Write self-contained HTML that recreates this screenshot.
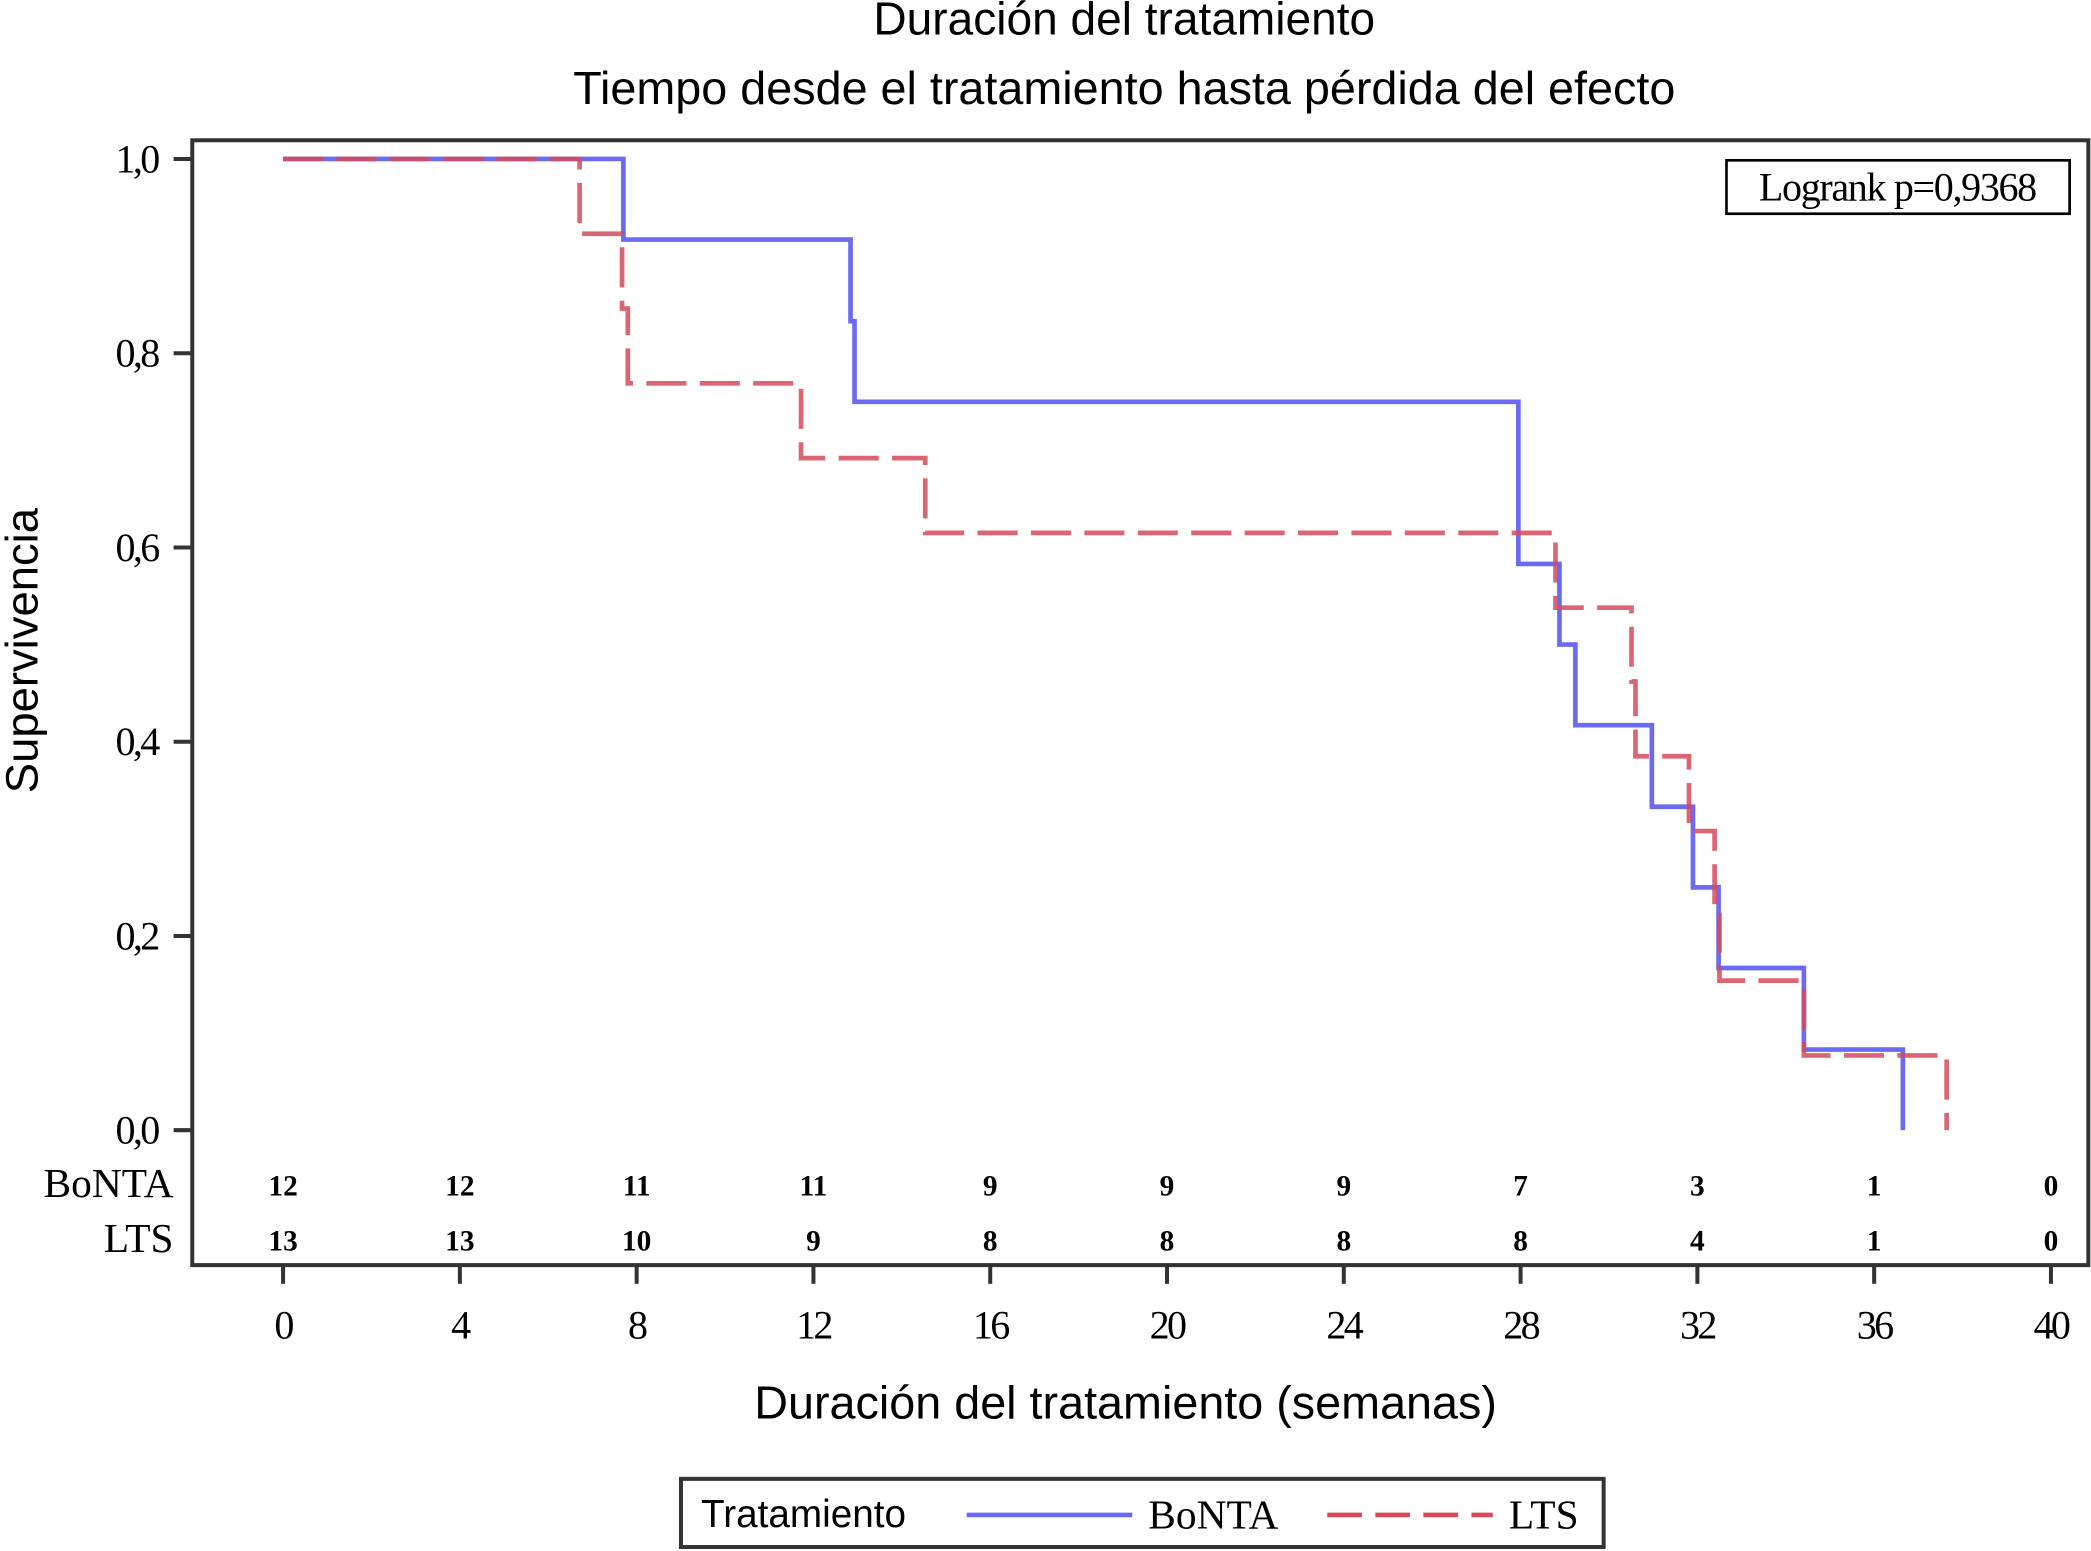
<!DOCTYPE html>
<html><head><meta charset="utf-8"><style>
html,body{margin:0;padding:0;background:#fff;}
svg{display:block;}
.t{font-family:"Liberation Sans",sans-serif;fill:#000;}
.s{font-family:"Liberation Serif",serif;fill:#000;}
</style></head><body>
<svg id="chart" width="2091" height="1551" viewBox="0 0 1566 1161" preserveAspectRatio="none" xmlns="http://www.w3.org/2000/svg">
<text class="t" x="842" y="26" font-size="34.5" text-anchor="middle">Duración del tratamiento</text>
<text class="t" x="842" y="78" font-size="35" text-anchor="middle">Tiempo desde el tratamiento hasta pérdida del efecto</text>
<rect x="144" y="105" width="1420" height="842" fill="none" stroke="#333" stroke-width="3"/>
<g id="yaxis"></g>
<g id="xaxis"></g>
<g id="series"></g>
<g id="risk"></g>
<text class="t" transform="translate(28,487) rotate(-90)" font-size="34" text-anchor="middle">Supervivencia</text>
<text class="t" x="843" y="1062" font-size="35" text-anchor="middle">Duración del tratamiento (semanas)</text>
<g>
<rect x="1293" y="120" width="257" height="40" fill="#fff" stroke="#000" stroke-width="2"/>
<text class="s" x="1421" y="150" font-size="30" text-anchor="middle" letter-spacing="-1">Logrank p=0,9368</text>
</g>
<g>
<rect x="510" y="1107" width="691" height="51" fill="#fff" stroke="#333" stroke-width="3"/>
<text class="t" x="525" y="1143" font-size="29">Tratamiento</text>
<line x1="724" y1="1134" x2="848" y2="1134" stroke="#6a6af2" stroke-width="3.5"/>
<text class="s" x="860" y="1144" font-size="31">BoNTA</text>
<line x1="994" y1="1134" x2="1118" y2="1134" stroke="#d64a5a" stroke-width="3.5" stroke-dasharray="26,10"/>
<text class="s" x="1130" y="1144" font-size="31">LTS</text>
</g>
</svg>
<script>
var yTicks=[0,0.2,0.4,0.6,0.8,1.0];
var yLabels=["0,0","0,2","0,4","0,6","0,8","1,0"];
var xTicks=[0,4,8,12,16,20,24,28,32,36,40];
var riskBonta=[12,12,11,11,9,9,9,7,3,1,0];
var riskLts=[13,13,10,9,8,8,8,8,4,1,0];
var bontaTimes=[7.70,12.84,12.93,27.95,28.88,29.24,30.97,31.90,32.48,34.41,36.65];
var bontaSurv=[0.917,0.833,0.75,0.583,0.5,0.417,0.333,0.25,0.167,0.083,0];
var ltsTimes=[6.71,7.67,7.80,11.72,14.53,28.79,30.51,30.60,31.81,32.39,32.50,34.41,37.64];
var ltsSurv=[0.923,0.846,0.769,0.692,0.615,0.538,0.462,0.385,0.308,0.231,0.154,0.077,0];
var NS="http://www.w3.org/2000/svg";
function X(t){return 212+t*(1536-212)/40;}
function Y(v){return 846-v*(846-119);}
function mk(tag,at,par){var e=document.createElementNS(NS,tag);for(var k in at)e.setAttribute(k,at[k]);par.appendChild(e);return e;}
var ya=document.getElementById('yaxis'),xa=document.getElementById('xaxis'),se=document.getElementById('series'),rk=document.getElementById('risk');
yTicks.forEach(function(v,i){
 var l=mk('line',{x1:130,x2:144,y1:Y(v),y2:Y(v),stroke:'#333','stroke-width':3},ya);
 
 
 var t=mk('text',{x:118,y:Y(v)+10,'font-size':30,'text-anchor':'end','class':'s','letter-spacing':'-2'},ya);
 t.textContent=yLabels[i];
 
 
});
xTicks.forEach(function(v,i){
 var l=mk('line',{x1:X(v),x2:X(v),y1:947,y2:961,stroke:'#333','stroke-width':3},xa);
 
 
 var t=mk('text',{x:X(v),y:1002,'font-size':30,'text-anchor':'middle','class':'s','letter-spacing':'-2'},xa);
 t.textContent=v;
 
 
 var a=mk('text',{x:X(v),y:895,'font-size':22,'text-anchor':'middle','class':'s','font-weight':'bold'},rk);
 a.textContent=riskBonta[i];
 
 
 var b=mk('text',{x:X(v),y:936,'font-size':22,'text-anchor':'middle','class':'s','font-weight':'bold'},rk);
 b.textContent=riskLts[i];
 
 
});
var r1=mk('text',{x:130,y:896,'font-size':31,'text-anchor':'end','class':'s'},rk);r1.textContent='BoNTA';


var r2=mk('text',{x:130,y:937,'font-size':31,'text-anchor':'end','class':'s'},rk);r2.textContent='LTS';


function step(times,surv){var d='M'+X(0)+','+Y(1);for(var i=0;i<times.length;i++){d+=' H'+X(times[i])+' V'+Y(surv[i]);}return d;}
var pb=mk('path',{d:step(bontaTimes,bontaSurv),fill:'none',stroke:'#6a6af2','stroke-width':3.5},se);


var pl=mk('path',{d:step(ltsTimes,ltsSurv),fill:'none',stroke:'#d64a5a','stroke-width':3.5,'stroke-dasharray':'30,10','stroke-opacity':0.85},se);


</script>
</body></html>
